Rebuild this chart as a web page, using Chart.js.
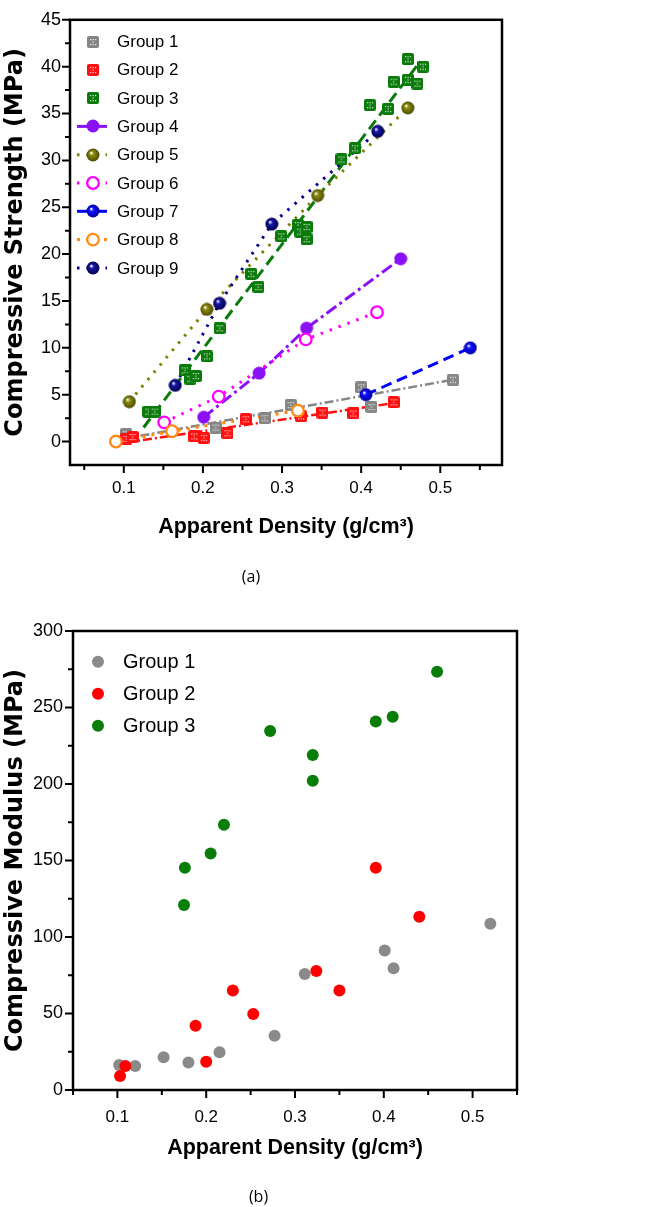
<!DOCTYPE html>
<html>
<head>
<meta charset="utf-8">
<script src="https://cdn.jsdelivr.net/npm/chart.js@4.4.1/dist/chart.umd.min.js"></script>
<style>
html,body{margin:0;padding:0;background:#fff;}
#wrapA{position:absolute;left:0;top:0;width:664px;height:600px;}
#wrapB{position:absolute;left:0;top:600px;width:664px;height:607px;}
canvas{display:block;}
</style>
</head>
<body>
<div id="wrapA"><canvas id="chartA" width="664" height="600"></canvas></div>
<div id="wrapB"><canvas id="chartB" width="664" height="607"></canvas></div>
<script>
// ---------- Chart (a): Compressive Strength ----------
const xTicksA = [0.1, 0.2, 0.3, 0.4, 0.5];
const xTickLabelsA = ['0.1', '0.2', '0.3', '0.4', '0.5'];
const xMinorA = [0.05, 0.15, 0.25, 0.35, 0.45, 0.55];
const yTicksA = [0, 5, 10, 15, 20, 25, 30, 35, 40, 45];
const yTickLabelsA = ['0', '5', '10', '15', '20', '25', '30', '35', '40', '45'];
const yMinorA = [2.5, 7.5, 12.5, 17.5, 22.5, 27.5, 32.5, 37.5, 42.5];
const groupNamesA = ['Group 1', 'Group 2', 'Group 3', 'Group 4', 'Group 5', 'Group 6', 'Group 7', 'Group 8', 'Group 9'];

const g1X = [0.103, 0.216, 0.278, 0.311, 0.400, 0.413, 0.516];
const g1Y = [0.8, 1.5, 2.5, 3.9, 5.8, 3.7, 6.6];
const g1FitX = [0.100, 0.516];
const g1FitY = [0.3, 6.6];

const g2X = [0.103, 0.111, 0.189, 0.201, 0.231, 0.254, 0.324, 0.351, 0.390, 0.441];
const g2Y = [0.3, 0.5, 0.55, 0.4, 0.9, 2.4, 2.7, 3.1, 3.0, 4.2];
const g2FitX = [0.103, 0.441];
const g2FitY = [-0.1, 4.1];

const g3X = [0.131, 0.139, 0.177, 0.184, 0.191, 0.205, 0.221, 0.261, 0.270, 0.299, 0.320, 0.323, 0.331, 0.331, 0.375, 0.392, 0.411, 0.434, 0.441, 0.459, 0.459, 0.471, 0.478];
const g3Y = [3.2, 3.2, 7.6, 6.7, 7.0, 9.1, 12.1, 17.9, 16.5, 21.9, 23.1, 22.4, 22.9, 21.6, 30.1, 31.3, 35.9, 35.5, 38.4, 40.8, 38.6, 38.2, 40.0];
const g3FitX = [0.125, 0.475];
const g3FitY = [1.5, 40.6];

const g4X = [0.201, 0.271, 0.331, 0.450];
const g4Y = [2.6, 7.3, 12.1, 19.5];
const g5X = [0.107, 0.205, 0.345, 0.459];
const g5Y = [4.25, 14.1, 26.25, 35.6];
const g6X = [0.151, 0.220, 0.330, 0.420];
const g6Y = [2.05, 4.8, 10.9, 13.8];
const g7X = [0.406, 0.538];
const g7Y = [5.0, 10.0];
const g8X = [0.090, 0.161, 0.320];
const g8Y = [0.0, 1.1, 3.3];
const g9X = [0.165, 0.221, 0.287, 0.421];
const g9Y = [6.0, 14.75, 23.2, 33.1];

// ---------- Chart (b): Compressive Modulus ----------
const xTicksB = [0.1, 0.2, 0.3, 0.4, 0.5];
const xTickLabelsB = ['0.1', '0.2', '0.3', '0.4', '0.5'];
const xMinorB = [0.05, 0.15, 0.25, 0.35, 0.45, 0.55];
const yTicksB = [0, 50, 100, 150, 200, 250, 300];
const yTickLabelsB = ['0', '50', '100', '150', '200', '250', '300'];
const yMinorB = [25, 75, 125, 175, 225, 275];
const groupNamesB = ['Group 1', 'Group 2', 'Group 3'];

const m1X = [0.102, 0.120, 0.152, 0.180, 0.215, 0.277, 0.311, 0.401, 0.411, 0.520];
const m1Y = [16.3, 15.7, 21.4, 17.9, 24.6, 35.5, 75.8, 91.1, 79.5, 108.7];
const m2X = [0.103, 0.109, 0.188, 0.200, 0.230, 0.253, 0.324, 0.350, 0.391, 0.440];
const m2Y = [9.2, 15.7, 42.0, 18.5, 65.0, 49.7, 77.8, 65.0, 145.3, 113.3];
const m3X = [0.175, 0.176, 0.205, 0.220, 0.272, 0.320, 0.320, 0.391, 0.410, 0.460];
const m3Y = [120.9, 145.3, 154.5, 173.4, 234.6, 219.0, 202.2, 240.8, 244.0, 273.4];

// ---------- helpers ----------
const zip = (xs, ys) => xs.map((x, i) => ({x: x, y: ys[i]}));
const TICKFONT = "'Liberation Sans', Arial, sans-serif";
const SANS = "'Liberation Sans', Arial, sans-serif";
const WIDE = "'DejaVu Sans', 'Liberation Sans', sans-serif";

function squareImg(color) {
  const s = 12, c = document.createElement('canvas');
  c.width = s; c.height = s;
  const g = c.getContext('2d');
  g.fillStyle = color;
  g.beginPath();
  g.moveTo(2, 0); g.lineTo(s - 2, 0); g.quadraticCurveTo(s, 0, s, 2);
  g.lineTo(s, s - 2); g.quadraticCurveTo(s, s, s - 2, s);
  g.lineTo(2, s); g.quadraticCurveTo(0, s, 0, s - 2);
  g.lineTo(0, 2); g.quadraticCurveTo(0, 0, 2, 0);
  g.fill();
  g.fillStyle = 'rgba(255,255,255,0.85)';
  [[3,3],[8,3],[3,8],[8,8],[5.5,5.5],[5.5,3],[5.5,8]].forEach(p => g.fillRect(p[0], p[1], 1.2, 1.2));
  return c;
}
function ballImg(color, dark, r, shade) {
  const d = Math.ceil(2 * r + 1), c = document.createElement('canvas');
  c.width = d; c.height = d;
  const g = c.getContext('2d');
  const cx = d / 2, cy = d / 2;
  if (shade) {
    const grad = g.createRadialGradient(cx - r * 0.3, cy - r * 0.35, r * 0.05, cx, cy, r);
    grad.addColorStop(0, '#ffffff');
    grad.addColorStop(0.3, color);
    grad.addColorStop(1, dark);
    g.fillStyle = grad;
  } else {
    g.fillStyle = color;
  }
  g.beginPath(); g.arc(cx, cy, r, 0, Math.PI * 2); g.fill();
  return c;
}

const COL = {
  g1: '#858585', g2: '#ff0f0f', g3: '#0a7a0a', g4: '#8a10f5', g5: '#7f7f00',
  g6: '#ff00ff', g7: '#0000ff', g8: '#ff8a10', g9: '#000090'
};
const IMG = {
  g1: squareImg(COL.g1), g2: squareImg(COL.g2), g3: squareImg(COL.g3),
  g4: ballImg(COL.g4, COL.g4, 6.5, false),
  g5: ballImg('#8c8c10', '#4a4a00', 6.5, true),
  g7: ballImg('#1010ff', '#0000a0', 6.5, true),
  g9: ballImg('#1818a8', '#000048', 6.5, true)
};

// style of each group in chart (a)
const STYLE_A = [
  {col: COL.g1, img: IMG.g1, dash: [9, 3, 2, 3], lw: 2.5, legendLine: false},
  {col: COL.g2, img: IMG.g2, dash: [9, 3, 2, 3], lw: 2.5, legendLine: false},
  {col: COL.g3, img: IMG.g3, dash: [11, 6], lw: 3, legendLine: false},
  {col: COL.g4, img: IMG.g4, dash: [12, 4, 3, 4], lw: 3, legendLine: true, legendDash: []},
  {col: COL.g5, img: IMG.g5, dash: [2.5, 7], lw: 3, legendLine: true},
  {col: COL.g6, ring: true, dash: [2.5, 7], lw: 3, legendLine: true},
  {col: COL.g7, img: IMG.g7, dash: [11, 6], lw: 3, legendLine: true, legendDash: []},
  {col: COL.g8, ring: true, dash: [3, 6], lw: 3, legendLine: true},
  {col: COL.g9, img: IMG.g9, dash: [2.5, 7], lw: 3, legendLine: true}
];

// ---------- plugins ----------
const framePlugin = {
  id: 'frame',
  afterDatasetsDraw(chart, args, o) {
    const ctx = chart.ctx, a = chart.chartArea, xs = chart.scales.x, ys = chart.scales.y;
    ctx.save();
    ctx.strokeStyle = '#000';
    ctx.lineWidth = o.lw;
    ctx.strokeRect(a.left, a.top, a.right - a.left, a.bottom - a.top);
    ctx.lineWidth = o.tw;
    ctx.beginPath();
    o.xMajor.forEach(v => { const p = xs.getPixelForValue(v); ctx.moveTo(p, a.bottom); ctx.lineTo(p, a.bottom + o.majorLen); });
    o.xMinor.forEach(v => { const p = xs.getPixelForValue(v); ctx.moveTo(p, a.bottom); ctx.lineTo(p, a.bottom + o.minorLen); });
    o.yMajor.forEach(v => { const p = ys.getPixelForValue(v); ctx.moveTo(a.left, p); ctx.lineTo(a.left - o.majorLen, p); });
    o.yMinor.forEach(v => { const p = ys.getPixelForValue(v); ctx.moveTo(a.left, p); ctx.lineTo(a.left - o.minorLen, p); });
    ctx.stroke();
    ctx.restore();
  }
};

function drawMarker(ctx, st, x, y) {
  if (st.ring) {
    ctx.save();
    ctx.fillStyle = '#fff';
    ctx.strokeStyle = st.col; ctx.lineWidth = 2.3;
    ctx.beginPath(); ctx.arc(x, y, 5.8, 0, Math.PI * 2); ctx.fill(); ctx.stroke();
    ctx.restore();
  } else if (st.img) {
    ctx.drawImage(st.img, Math.round(x - st.img.width / 2), Math.round(y - st.img.height / 2));
  } else {
    ctx.save(); ctx.fillStyle = st.col;
    ctx.beginPath(); ctx.arc(x, y, st.r || 6, 0, Math.PI * 2); ctx.fill();
    ctx.restore();
  }
}

const legendPlugin = {
  id: 'boxLegend',
  afterDatasetsDraw(chart, args, o) {
    const ctx = chart.ctx, a = chart.chartArea;
    ctx.save();
    ctx.font = o.font;
    ctx.fillStyle = '#000';
    ctx.textBaseline = 'middle';
    ctx.textAlign = 'left';
    o.names.forEach((name, i) => {
      const st = o.styles[i];
      const y = a.top + o.y0 + i * o.dy;
      if (st.legendLine) {
        ctx.save();
        ctx.strokeStyle = st.col; ctx.lineWidth = st.lw;
        ctx.setLineDash(st.legendDash || st.dash);
        ctx.beginPath(); ctx.moveTo(a.left + o.lx0, y); ctx.lineTo(a.left + o.lx1, y); ctx.stroke();
        ctx.restore();
      }
      drawMarker(ctx, st, a.left + o.mx, y);
      ctx.fillText(name, a.left + o.tx, y + 1);
    });
    ctx.restore();
  }
};

// ---------- datasets (a) ----------
const seriesA = [
  {pts: zip(g1X, g1Y), fit: zip(g1FitX, g1FitY)},
  {pts: zip(g2X, g2Y), fit: zip(g2FitX, g2FitY)},
  {pts: zip(g3X, g3Y), fit: zip(g3FitX, g3FitY)},
  {pts: zip(g4X, g4Y)},
  {pts: zip(g5X, g5Y)},
  {pts: zip(g6X, g6Y)},
  {pts: zip(g7X, g7Y)},
  {pts: zip(g8X, g8Y)},
  {pts: zip(g9X, g9Y)}
];
const datasetsA = [];
seriesA.forEach((s, i) => {
  const st = STYLE_A[i];
  datasetsA.push({
    label: groupNamesA[i] + ' line',
    data: s.fit || s.pts,
    showLine: true,
    borderColor: st.col,
    borderWidth: st.lw,
    borderDash: st.dash,
    pointRadius: 0,
    fill: false,
    order: 30 - i
  });
});
seriesA.forEach((s, i) => {
  const st = STYLE_A[i];
  const ds = {
    label: groupNamesA[i],
    data: s.pts,
    showLine: false,
    order: 10 - i
  };
  if (st.ring) {
    ds.pointStyle = 'circle';
    ds.pointRadius = 5.8;
    ds.pointBorderWidth = 2.3;
    ds.pointBorderColor = st.col;
    ds.pointBackgroundColor = '#ffffff';
  } else {
    ds.pointStyle = st.img;
    ds.pointRadius = 6.5;
  }
  datasetsA.push(ds);
});

function fixedTicks(list) {
  return function (scale) { scale.ticks = list.map(v => ({value: v})); };
}

new Chart(document.getElementById('chartA'), {
  type: 'scatter',
  data: {datasets: datasetsA},
  plugins: [framePlugin, legendPlugin],
  options: {
    responsive: false,
    animation: false,
    events: [],
    layout: {padding: {left: 0, right: 162, top: 10, bottom: 13.4}},
    scales: {
      x: {
        type: 'linear', min: 0.032, max: 0.578,
        afterBuildTicks: fixedTicks(xTicksA),
        afterFit: s => { s.height = 102.4; },
        ticks: {callback: (v, i) => xTickLabelsA[i], font: {family: TICKFONT, size: 17}, color: '#000', padding: 13, maxRotation: 0, autoSkip: false},
        grid: {display: false, drawTicks: false},
        border: {display: false},
        title: {display: true, text: 'Apparent Density (g/cm³)', color: '#000', font: {family: SANS, weight: 'bold', size: 21.5}, padding: {top: 0, bottom: 27}}
      },
      y: {
        type: 'linear', min: -2.5, max: 45,
        afterBuildTicks: fixedTicks(yTicksA),
        afterFit: s => { s.width = 70; },
        ticks: {callback: (v, i) => yTickLabelsA[i], font: {family: TICKFONT, size: 18}, color: '#000', padding: 9, autoSkip: false},
        grid: {display: false, drawTicks: false},
        border: {display: false},
        title: {display: true, text: 'Compressive Strength (MPa)', color: '#000', font: {family: WIDE, weight: 'bold', size: 24}, padding: {top: 1, bottom: 0}}
      }
    },
    plugins: {
      legend: {display: false},
      tooltip: {enabled: false},
      title: {display: true, position: 'bottom', text: '(a)', color: '#000', font: {family: "'Open Sans', sans-serif", size: 16, weight: 'normal'}, padding: 0},
      frame: {lw: 2.5, tw: 2, majorLen: 8, minorLen: 5, xMajor: xTicksA, xMinor: xMinorA, yMajor: yTicksA, yMinor: yMinorA},
      boxLegend: {names: groupNamesA, styles: STYLE_A, font: '17px ' + SANS, y0: 21.7, dy: 28.3, lx0: 7, lx1: 37, mx: 23, tx: 47}
    }
  }
});

// ---------- chart (b) ----------
const STYLE_B = [
  {col: '#8a8a8a', r: 6},
  {col: '#ff0000', r: 6},
  {col: '#087e08', r: 6}
];
const seriesB = [zip(m1X, m1Y), zip(m2X, m2Y), zip(m3X, m3Y)];
const datasetsB = seriesB.map((pts, i) => ({
  label: groupNamesB[i],
  data: pts,
  showLine: false,
  pointStyle: 'circle',
  pointRadius: 6,
  pointBorderWidth: 0,
  pointBackgroundColor: STYLE_B[i].col,
  pointBorderColor: STYLE_B[i].col,
  order: 3 - i
}));

new Chart(document.getElementById('chartB'), {
  type: 'scatter',
  data: {datasets: datasetsB},
  plugins: [framePlugin, legendPlugin],
  options: {
    responsive: false,
    animation: false,
    events: [],
    layout: {padding: {left: 0, right: 147, top: 31, bottom: 0}},
    scales: {
      x: {
        type: 'linear', min: 0.05, max: 0.55,
        afterBuildTicks: fixedTicks(xTicksB),
        afterFit: s => { s.height = 97.8; },
        ticks: {callback: (v, i) => xTickLabelsB[i], font: {family: TICKFONT, size: 17}, color: '#000', padding: 17, maxRotation: 0, autoSkip: false},
        grid: {display: false, drawTicks: false},
        border: {display: false},
        title: {display: true, text: 'Apparent Density (g/cm³)', color: '#000', font: {family: SANS, weight: 'bold', size: 21.5}, padding: {top: 0, bottom: 27}}
      },
      y: {
        type: 'linear', min: 0, max: 300,
        afterBuildTicks: fixedTicks(yTicksB),
        afterFit: s => { s.width = 73; },
        ticks: {callback: (v, i) => yTickLabelsB[i], font: {family: TICKFONT, size: 18}, color: '#000', padding: 10, autoSkip: false},
        grid: {display: false, drawTicks: false},
        border: {display: false},
        title: {display: true, text: 'Compressive Modulus (MPa)', color: '#000', font: {family: WIDE, weight: 'bold', size: 24}, padding: {top: 1, bottom: 0}}
      }
    },
    plugins: {
      legend: {display: false},
      tooltip: {enabled: false},
      title: {display: true, position: 'bottom', text: '(b)', color: '#000', font: {family: "'Open Sans', sans-serif", size: 16, weight: 'normal'}, padding: 0},
      frame: {lw: 2.5, tw: 2, majorLen: 8, minorLen: 5, xMajor: xTicksB, xMinor: xMinorB, yMajor: yTicksB, yMinor: yMinorB},
      boxLegend: {names: groupNamesB, styles: STYLE_B, font: '20px ' + SANS, y0: 30.7, dy: 32, lx0: 0, lx1: 0, mx: 25, tx: 50}
    }
  }
});
</script>
</body>
</html>
